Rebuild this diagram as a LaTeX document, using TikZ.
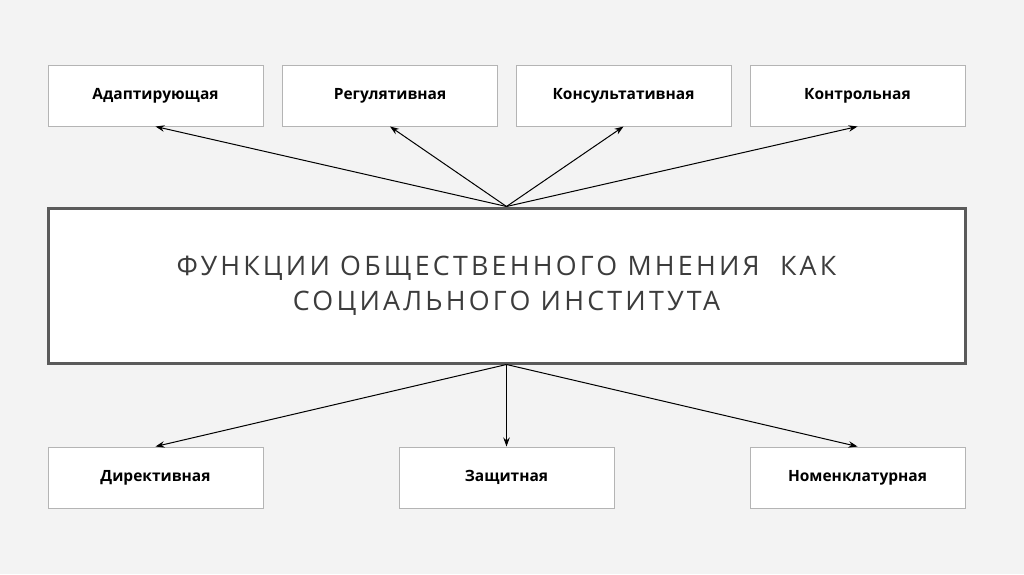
\documentclass[tikz,border=0pt]{standalone}
\usepackage{fontspec}
\setmainfont{Open Sans}
\newfontfamily\titlefont[LetterSpace=12]{Open Sans}
\usetikzlibrary{arrows.meta}
\definecolor{bgc}{HTML}{F3F3F3}
\definecolor{smallborder}{HTML}{B4B4B4}
\definecolor{mainborder}{HTML}{5A5A5A}
\definecolor{titlec}{HTML}{3C3C3C}
\tikzset{
  smallbox/.style={draw=smallborder, line width=1pt, fill=white, minimum width=215pt, minimum height=61pt, inner sep=0pt, text height=11pt, text depth=4pt, font=\fontsize{15.5}{18}\selectfont\bfseries},
  mainbox/.style={draw=mainborder, line width=3pt, fill=white, minimum width=917pt, minimum height=155pt, inner sep=0pt, align=center, text=titlec, font=\titlefont\fontsize{26.8}{35}\selectfont},
  conn/.style={-{Stealth[length=9pt,width=6.5pt]}, line width=1pt, black}
}
\begin{document}
\begin{tikzpicture}[x=1pt,y=-1pt]
\fill[bgc] (0,0) rectangle (1024,574);
\useasboundingbox (0,0) rectangle (1024,574);
\node[mainbox] (main) at (506.5,285.5) {ФУНКЦИИ ОБЩЕСТВЕННОГО МНЕНИЯ\ \ КАК\\СОЦИАЛЬНОГО ИНСТИТУТА};
\node[smallbox] (a1) at (155.5,95.5) {Адаптирующая};
\node[smallbox] (a2) at (390,95.5) {Регулятивная};
\node[smallbox] (a3) at (623.5,95.5) {Консультативная};
\node[smallbox] (a4) at (857.5,95.5) {Контрольная};
\node[smallbox] (b1) at (155.5,477.5) {Директивная};
\node[smallbox] (b2) at (506.5,477.5) {Защитная};
\node[smallbox] (b3) at (857.5,477.5) {Номенклатурная};
\foreach \n in {a1,a2,a3,a4} \draw[conn] (main.north) -- (\n.south);
\foreach \n in {b1,b2,b3} \draw[conn] (main.south) -- (\n.north);
\end{tikzpicture}
\end{document}
